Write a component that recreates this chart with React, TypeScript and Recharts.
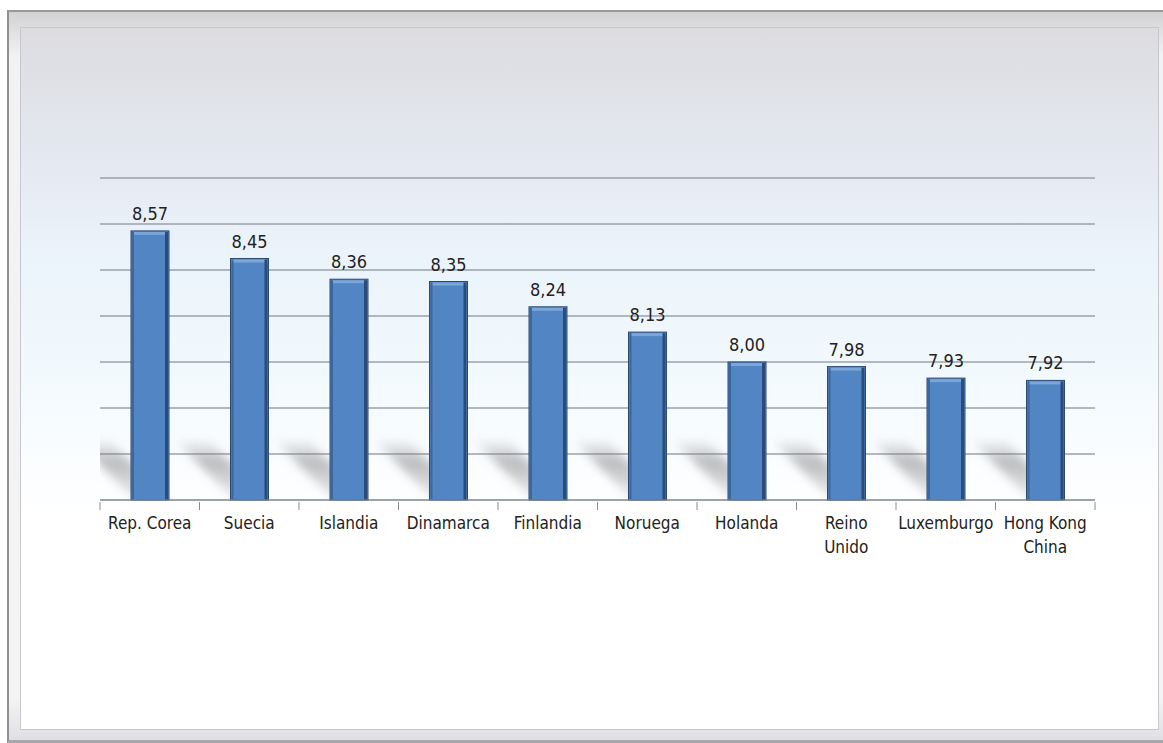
import { BarChart, Bar, XAxis, YAxis, CartesianGrid, LabelList } from "recharts";

const categories = [
  "Rep. Corea",
  "Suecia",
  "Islandia",
  "Dinamarca",
  "Finlandia",
  "Noruega",
  "Holanda",
  "Reino\nUnido",
  "Luxemburgo",
  "Hong Kong\nChina",
];
const scores = [8.57, 8.45, 8.36, 8.35, 8.24, 8.13, 8.0, 7.98, 7.93, 7.92];
const yTicks = [7.4, 7.6, 7.8, 8.0, 8.2, 8.4, 8.6, 8.8];

const W = 1163;
const H = 743;
const MARGIN = { top: 178, right: 68, left: 100, bottom: 183 };
const PLOT_W = W - MARGIN.left - MARGIN.right;
const PLOT_H = H - MARGIN.top - MARGIN.bottom - 60;
const BAND = PLOT_W / categories.length;
const FONT = "'Liberation Sans Narrow', 'DejaVu Sans Condensed', 'Liberation Sans', sans-serif";

const rows = categories.map((name, i) => ({ name, value: scores[i] }));

const fmt = (v: any) => Number(v).toFixed(2).replace(".", ",");

function BevelBar(props: any) {
  const { x, y, width, height } = props;
  if (!height || height <= 0) return null;
  const bottom = y + height;
  const sx = 58;
  const sy = 58;
  return (
    <g>
      <polygon
        points={`${x + 4},${bottom} ${x + width},${bottom} ${x + width - sx},${bottom - sy} ${x + 4 - sx},${bottom - sy}`}
        fill="url(#shadowGrad)"
        filter="url(#shadowBlur)"
        clipPath="url(#plotClip)"
      />
      <rect x={x} y={y} width={width} height={height} fill="#5285c3" stroke="#2a4a74" strokeWidth={1} />
      <rect x={x + 1} y={y + 1} width={width - 2} height={3} fill="#7ca5d8" />
      <rect x={x + 1} y={y + 1} width={2} height={height - 1} fill="#3c679b" />
      <rect x={x + width - 4} y={y + 1} width={3} height={height - 1} fill="#2b4c78" />
    </g>
  );
}

function CategoryTick(props: any) {
  const { x, y, payload, index } = props;
  const lines = String(payload.value).split("\n");
  const left = x - BAND / 2;
  const right = x + BAND / 2;
  return (
    <g>
      <line x1={left} y1={y} x2={left} y2={y + 8} stroke="#8c8c8c" />
      {index === categories.length - 1 && (
        <line x1={right} y1={y} x2={right} y2={y + 8} stroke="#8c8c8c" />
      )}
      <text x={x} y={y + 27} textAnchor="middle" fontSize={17} fill="#222" fontFamily={FONT}>
        {lines.map((l, i) => (
          <tspan key={i} x={x} dy={i === 0 ? 0 : 24}>
            {l}
          </tspan>
        ))}
      </text>
    </g>
  );
}

export default function App() {
  return (
    <div
      style={{
        position: "absolute",
        left: 0,
        top: 0,
        width: W,
        height: H,
        background: "#ffffff",
        overflow: "hidden",
        fontFamily: FONT,
      }}
    >
      {/* bevelled frame */}
      <div
        style={{
          position: "absolute",
          left: 7,
          top: 10,
          width: W - 7,
          height: H - 10,
          boxSizing: "border-box",
          borderLeft: "2px solid #8f8f8f",
          borderTop: "2px solid #9a9a9a",
          borderBottom: "3px solid #a8a8ac",
          background: "linear-gradient(#d2d2d4, #f2f2f4 6%, #f4f4f6 94%, #e0e0e4)",
        }}
      />
      <div
        style={{
          position: "absolute",
          left: 20,
          top: 27,
          width: 1139,
          height: 703,
          boxSizing: "border-box",
          border: "1px solid #c6c8ce",
          background:
            "linear-gradient(#dcdce0 0%, #e4e8f0 18%, #ebf3fb 32%, #f1f9fd 48%, #fbfdff 62%, #ffffff 70%)",
        }}
      />
      <div style={{ position: "absolute", left: 0, top: 0 }}>
        <BarChart width={W} height={H} data={rows} margin={MARGIN} barSize={38}>
          <defs>
            <linearGradient id="shadowGrad" x1="0" y1="0" x2="0" y2="1">
              <stop offset="0%" stopColor="#8a8a8a" stopOpacity={0.12} />
              <stop offset="35%" stopColor="#7a7a7a" stopOpacity={0.5} />
              <stop offset="100%" stopColor="#9a9a9a" stopOpacity={0.18} />
            </linearGradient>
            <filter id="shadowBlur" x="-50%" y="-50%" width="200%" height="200%">
              <feGaussianBlur stdDeviation={5} />
            </filter>
            <clipPath id="plotClip">
              <rect x={MARGIN.left} y={MARGIN.top} width={PLOT_W} height={PLOT_H} />
            </clipPath>
          </defs>
          <CartesianGrid vertical={false} stroke="#9aa2ac" strokeWidth={1.3} />
          <YAxis hide domain={[7.4, 8.8]} ticks={yTicks} />
          <XAxis
            dataKey="name"
            height={60}
            tickLine={false}
            tickSize={0}
            axisLine={{ stroke: "#8c8c8c" }}
            interval={0}
            tick={<CategoryTick />}
          />
          <Bar dataKey="value" shape={<BevelBar />} isAnimationActive={false}>
            <LabelList
              dataKey="value"
              position="top"
              offset={11}
              formatter={fmt}
              style={{ fontSize: 18, fill: "#222", fontFamily: FONT }}
            />
          </Bar>
        </BarChart>
      </div>
    </div>
  );
}
